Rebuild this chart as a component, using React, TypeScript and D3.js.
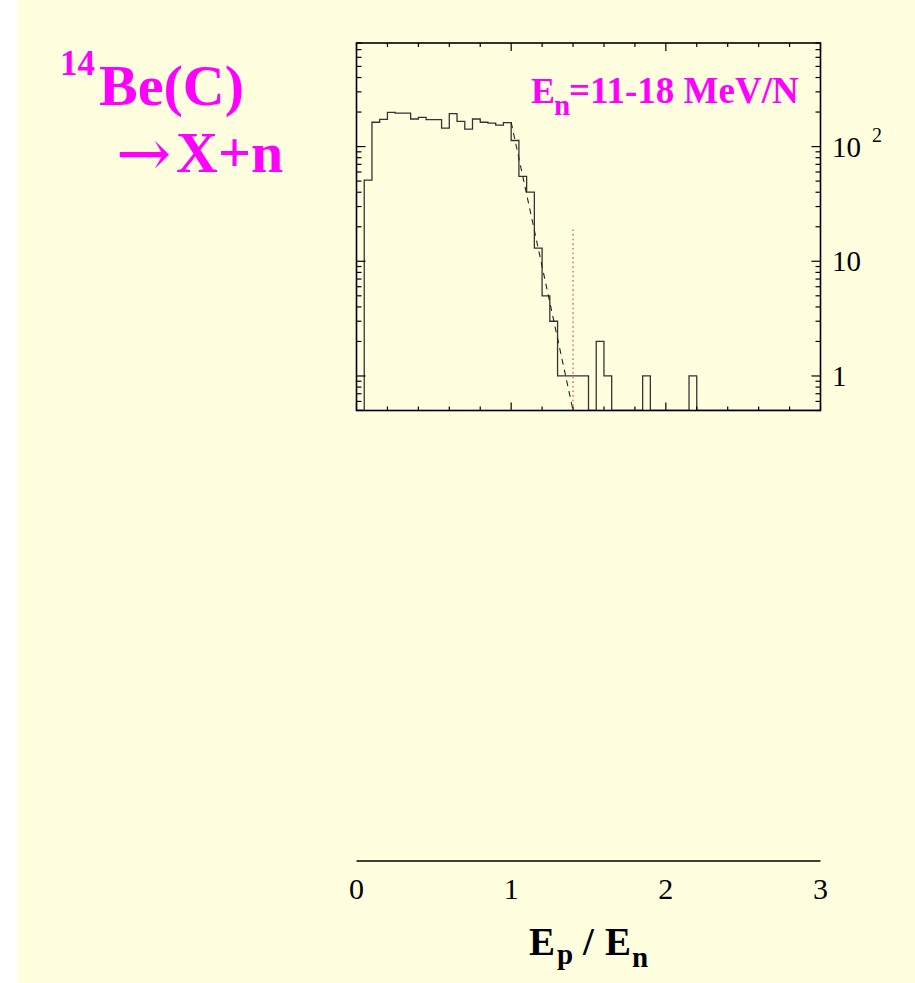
import React from "react";
import * as d3 from "d3";

// ---- data ----
const binWidth = 0.05;
const binCounts = [
  0, 51, 163, 173, 199, 196, 196, 174, 180, 172,
  172, 145, 194, 166, 142, 174, 163, 160, 154, 162,
  113, 55, 40, 13, 5, 3, 1, 1, 1, 1,
  0, 2, 1, 0, 0, 0, 0, 1, 0, 0,
  0, 0, 0, 1, 0, 0, 0, 0, 0, 0,
  0, 0, 0, 0, 0, 0, 0, 0, 0, 0,
];
const fitX = [1.0, 1.4];
const fitY = [163, 0.5];
const cutX = [1.4, 1.4];
const cutY = [0.5, 20];
const xTicks = [0, 1, 2, 3];
const xTickLabels = ["0", "1", "2", "3"];
const yMajor = [1, 10, 100];
const yDomain = [0.5, 800];
const xDomain = [0, 3];

const W = 915;
const H = 983;
const frame = { left: 356.5, right: 820.5, top: 43, bottom: 410.5 };
const BG = "#ffffe0";
const MAG = "#ff00ff";
const SERIF = "'Liberation Serif', 'Times New Roman', serif";

export default function App() {
  const x = d3.scaleLinear().domain(xDomain).range([frame.left, frame.right]);
  const y = d3.scaleLog().domain(yDomain).range([frame.bottom, frame.top]);
  const yc = (v: number) => y(Math.max(v, yDomain[0]));

  // histogram outline points
  const pts: [number, number][] = [];
  pts.push([x(0), yc(0)]);
  binCounts.forEach((c, i) => {
    const x0 = i * binWidth;
    const x1 = (i + 1) * binWidth;
    pts.push([x(x0), yc(c)]);
    pts.push([x(x1), yc(c)]);
  });
  pts.push([x(binCounts.length * binWidth), yc(0)]);
  const histPath = d3.line()(pts) as string;

  const fitPath = d3.line<number>()
    .x((_, i) => x(fitX[i]))
    .y((_, i) => y(fitY[i]))(fitX) as string;
  const cutPath = d3.line<number>()
    .x((_, i) => x(cutX[i]))
    .y((_, i) => y(cutY[i]))(cutX) as string;

  // x frame ticks
  const xMinor = d3.range(0, 3.0001, 0.2).map((v) => +v.toFixed(2));
  // y log ticks
  const yTicksAll: { v: number; major: boolean }[] = [];
  for (let e = -1; e <= 2; e++) {
    for (let m = 1; m <= 9; m++) {
      const v = m * Math.pow(10, e);
      if (v >= yDomain[0] - 1e-9 && v <= yDomain[1] + 1e-9) {
        yTicksAll.push({ v, major: m === 1 });
      }
    }
  }

  const axisY = 861;

  return (
    <svg
      width={W}
      height={H}
      style={{ position: "absolute", left: 0, top: 0 }}
      fontFamily={SERIF}
    >
      <rect x={0} y={0} width={W} height={H} fill="#ffffff" />
      <rect x={17} y={0} width={W - 17} height={H} fill={BG} />

      <defs>
        <clipPath id="frameClip">
          <rect
            x={frame.left}
            y={frame.top}
            width={frame.right - frame.left}
            height={frame.bottom - frame.top}
          />
        </clipPath>
      </defs>

      {/* histogram */}
      <g clipPath="url(#frameClip)">
        <path d={histPath} fill="none" stroke="#333" strokeWidth={1.3} />
        <path
          d={fitPath}
          fill="none"
          stroke="#222"
          strokeWidth={1.1}
          strokeDasharray="6,5"
        />
        <path
          d={cutPath}
          fill="none"
          stroke="#e03a3a"
          strokeWidth={1.1}
          strokeDasharray="1.6,3"
        />
      </g>

      {/* frame */}
      <rect
        x={frame.left}
        y={frame.top}
        width={frame.right - frame.left}
        height={frame.bottom - frame.top}
        fill="none"
        stroke="#000"
        strokeWidth={1.6}
      />
      {/* x ticks top/bottom */}
      {xMinor.map((v) => {
        const major = Math.abs(v - Math.round(v)) < 1e-6;
        const len = major ? 8 : 4;
        return (
          <g key={"xt" + v}>
            <line x1={x(v)} x2={x(v)} y1={frame.top} y2={frame.top + len} stroke="#000" strokeWidth={1.2} />
            <line x1={x(v)} x2={x(v)} y1={frame.bottom} y2={frame.bottom - len} stroke="#000" strokeWidth={1.2} />
          </g>
        );
      })}
      {/* y ticks left/right */}
      {yTicksAll.map((t) => {
        const len = t.major ? 9 : 5;
        return (
          <g key={"yt" + t.v}>
            <line x1={frame.left} x2={frame.left + len} y1={y(t.v)} y2={y(t.v)} stroke="#000" strokeWidth={1.2} />
            <line x1={frame.right} x2={frame.right - len} y1={y(t.v)} y2={y(t.v)} stroke="#000" strokeWidth={1.2} />
          </g>
        );
      })}

      {/* right axis labels */}
      {yMajor.map((v) => {
        const exp = Math.round(Math.log10(v));
        const yy = y(v) + 10;
        if (exp >= 2) {
          return (
            <g key={"yl" + v}>
              <text x={832} y={yy} fontSize={29} fill="#000">10</text>
              <text x={872} y={yy - 15} fontSize={20} fill="#000">{exp}</text>
            </g>
          );
        }
        return (
          <text key={"yl" + v} x={832} y={yy} fontSize={29} fill="#000">
            {String(v)}
          </text>
        );
      })}

      {/* separate bottom axis */}
      <line x1={x(xDomain[0])} x2={x(xDomain[1])} y1={axisY} y2={axisY} stroke="#000" strokeWidth={1.3} />
      {xTicks.map((v, i) => (
        <text key={"xl" + v} x={x(v)} y={899} fontSize={30} textAnchor="middle" fill="#000">
          {xTickLabels[i]}
        </text>
      ))}

      {/* axis title Ep / En */}
      <g fontWeight="bold" fill="#000">
        <text x={529} y={955} fontSize={39}>E</text>
        <text x={557} y={964} fontSize={29}>p</text>
        <text x={583} y={955} fontSize={39}>/</text>
        <text x={605} y={955} fontSize={39}>E</text>
        <text x={632} y={967} fontSize={29}>n</text>
      </g>

      {/* energy label */}
      <g fontWeight="bold" fill={MAG}>
        <text x={531} y={103} fontSize={36}>E</text>
        <text x={554} y={115} fontSize={29}>n</text>
        <text x={569} y={103} fontSize={37}>=11-18 MeV/N</text>
      </g>

      {/* title */}
      <g fontWeight="bold" fill={MAG}>
        <text x={60} y={75} fontSize={35}>14</text>
        <text x={99} y={105} fontSize={58}>Be(C)</text>
        <text x={116} y={176} fontSize={66} fontWeight="normal" fontFamily="'DejaVu Serif', serif">→</text>
        <text x={176} y={172} fontSize={58}>X+n</text>
      </g>
    </svg>
  );
}
